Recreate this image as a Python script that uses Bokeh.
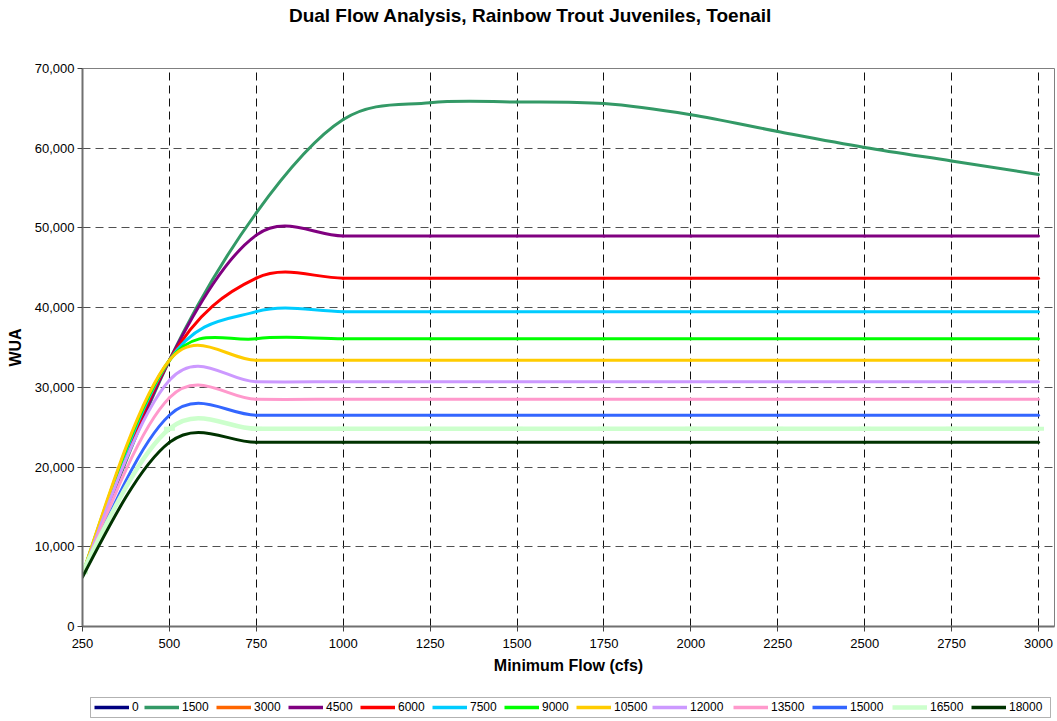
import math
from bokeh.plotting import figure
from bokeh.layouts import column
from bokeh.models import (Range1d, FixedTicker, NumeralTickFormatter, Legend,
                          LegendItem, ColumnDataSource, Label, BoxAnnotation)
from bokeh.embed import file_html
from bokeh.resources import INLINE

# ---------------- data ----------------
flows = [250, 500, 750, 1000, 1250, 1500, 1750, 2000, 2250, 2500, 2750, 3000]

series_names = ["0", "1500", "3000", "4500", "6000", "7500", "9000",
                "10500", "12000", "13500", "15000", "16500", "18000"]

wua_0 = []        # not visible in the chart (legend entry only)
wua_1500 = [6500, 33400, 51900, 63600, 65700, 65800, 65600, 64200, 62100, 60100, 58400, 56700]
wua_3000 = []     # not visible in the chart (legend entry only)
wua_4500 = [6500, 33400, 49100, 49000, 49000, 49000, 49000, 49000, 49000, 49000, 49000, 49000]
wua_6000 = [6500, 33400, 43700, 43700, 43700, 43700, 43700, 43700, 43700, 43700, 43700, 43700]
wua_7500 = [6500, 33400, 39500, 39500, 39500, 39500, 39500, 39500, 39500, 39500, 39500, 39500]
wua_9000 = [6500, 33400, 36100, 36100, 36100, 36100, 36100, 36100, 36100, 36100, 36100, 36100]
wua_10500 = [6500, 33400, 33400, 33400, 33400, 33400, 33400, 33400, 33400, 33400, 33400, 33400]
wua_12000 = [6400, 30900, 30700, 30700, 30700, 30700, 30700, 30700, 30700, 30700, 30700, 30700]
wua_13500 = [6400, 28700, 28500, 28500, 28500, 28500, 28500, 28500, 28500, 28500, 28500, 28500]
wua_15000 = [6300, 26500, 26500, 26500, 26500, 26500, 26500, 26500, 26500, 26500, 26500, 26500]
wua_16500 = [6800, 24800, 24800, 24800, 24800, 24800, 24800, 24800, 24800, 24800, 24800, 24800]
wua_18000 = [6200, 23100, 23100, 23100, 23100, 23100, 23100, 23100, 23100, 23100, 23100, 23100]

series_values = [wua_0, wua_1500, wua_3000, wua_4500, wua_6000, wua_7500, wua_9000,
                 wua_10500, wua_12000, wua_13500, wua_15000, wua_16500, wua_18000]

colors = ["#000080", "#339966", "#FF6600", "#800080", "#FF0000", "#00CCFF", "#00FF00",
          "#FFCC00", "#CC99FF", "#FF99CC", "#3366FF", "#CCFFCC", "#003300"]
widths = [3, 3, 3, 3, 3, 3, 3, 3, 3, 3, 3, 4.5, 3]

x_ticks = [250, 500, 750, 1000, 1250, 1500, 1750, 2000, 2250, 2500, 2750, 3000]
y_ticks = [0, 10000, 20000, 30000, 40000, 50000, 60000, 70000]

TITLE = "Dual Flow Analysis, Rainbow Trout Juveniles, Toenail"

# ---------------- layout constants (pixels) ----------------
W = 1057
H_TITLE, H_MAIN, H_LEG = 30, 660, 31
ML, MR, MT, MB = 82, 3, 38, 64
X0, X1 = 250, 3046
Y0, Y1 = 0, 70000
FONT = "Liberation Sans"
# left edge (page px) of each legend key, and the legend box
legend_key_x = [94, 144, 216, 288, 360, 432, 504, 576, 652, 733, 812, 892, 971]
LEG_BOX_LEFT, LEG_BOX_RIGHT = 90, 1050

# ---------------- title strip ----------------
tfig = figure(width=W, height=H_TITLE, output_backend="svg", toolbar_location=None,
              x_range=Range1d(ML, W - MR), y_range=Range1d(0, H_TITLE),
              x_axis_location=None, y_axis_location=None,
              min_border_left=ML, min_border_right=MR, min_border_top=0,
              min_border_bottom=0)
tfig.grid.visible = False
tfig.outline_line_color = None
tfig.background_fill_color = "white"
tfig.border_fill_color = "white"
tfig.add_layout(Label(x=530, y=H_TITLE - 15, text=TITLE, text_align="center",
                      text_baseline="middle", text_font=FONT,
                      text_font_size="19px", text_font_style="bold",
                      text_color="black"))

# ---------------- main figure ----------------
p = figure(width=W, height=H_MAIN, output_backend="svg", toolbar_location=None,
           x_range=Range1d(X0, X1), y_range=Range1d(Y0, Y1),
           min_border_left=ML, min_border_right=MR, min_border_top=MT,
           min_border_bottom=MB)

p.background_fill_color = "white"
p.border_fill_color = "white"
p.outline_line_color = "#808080"
p.outline_line_width = 1

p.xaxis.ticker = FixedTicker(ticks=x_ticks)
p.yaxis.ticker = FixedTicker(ticks=y_ticks)
p.yaxis.formatter = NumeralTickFormatter(format="0,0")
p.xaxis.axis_label = "Minimum Flow (cfs)"
p.yaxis.axis_label = "WUA"
for ax in (p.xaxis, p.yaxis):
    ax.axis_label_text_font = FONT
    ax.axis_label_text_font_style = "bold"
    ax.axis_label_text_font_size = "16px"
    ax.axis_label_text_color = "black"
    ax.major_label_text_font = FONT
    ax.major_label_text_font_size = "13px"
    ax.major_label_text_color = "black"
    ax.axis_line_color = "#707070"
    ax.axis_line_width = 2
    ax.major_tick_line_color = "#404040"
    ax.major_tick_out = 5
    ax.major_tick_in = 0
    ax.minor_tick_line_color = None
p.xaxis.major_label_standoff = 7
p.yaxis.major_label_standoff = 3
p.xaxis.axis_label_standoff = 6
p.yaxis.axis_label_standoff = 8

p.xgrid.ticker = FixedTicker(ticks=x_ticks)
p.ygrid.ticker = FixedTicker(ticks=y_ticks)
p.xgrid.grid_line_color = "#101010"
p.xgrid.grid_line_dash = "8 5"
p.xgrid.grid_line_width = 1
p.ygrid.grid_line_color = "#505050"
p.ygrid.grid_line_dash = "8 5"
p.ygrid.grid_line_width = 1

# ---------------- smoothed curves (Excel-like Bezier smoothing) ----------------
frame_w = W - ML - MR
frame_h = H_MAIN - MT - MB
SX = frame_w / (X1 - X0)
SY = frame_h / (Y1 - Y0)


def bezier_segments(xs, ys):
    n = len(xs)
    X = [x * SX for x in xs]
    Y = [y * SY for y in ys]
    m = [None] * n
    for i in range(1, n - 1):
        m[i] = ((X[i + 1] - X[i - 1]) / 2, (Y[i + 1] - Y[i - 1]) / 2)
    m[0] = ((3 * (X[1] - X[0]) - m[1][0]) / 2, (3 * (Y[1] - Y[0]) - m[1][1]) / 2)
    m[-1] = ((3 * (X[-1] - X[-2]) - m[-2][0]) / 2, (3 * (Y[-1] - Y[-2]) - m[-2][1]) / 2)
    out = dict(x0=[], y0=[], x1=[], y1=[], cx0=[], cy0=[], cx1=[], cy1=[])
    for i in range(n - 1):
        L = math.hypot(X[i + 1] - X[i], Y[i + 1] - Y[i])
        a = [m[i][0] / 3, m[i][1] / 3]
        b = [m[i + 1][0] / 3, m[i + 1][1] / 3]
        for v in (a, b):
            lv = math.hypot(v[0], v[1])
            if lv > L / 2 and lv > 0:
                f = (L / 2) / lv
                v[0] *= f
                v[1] *= f
        out["x0"].append(xs[i])
        out["y0"].append(ys[i])
        out["x1"].append(xs[i + 1])
        out["y1"].append(ys[i + 1])
        out["cx0"].append((X[i] + a[0]) / SX)
        out["cy0"].append((Y[i] + a[1]) / SY)
        out["cx1"].append((X[i + 1] - b[0]) / SX)
        out["cy1"].append((Y[i + 1] - b[1]) / SY)
    return out


for name, vals, col, lw in zip(series_names, series_values, colors, widths):
    if len(vals) >= 2:
        src = ColumnDataSource(bezier_segments(flows[:len(vals)], vals))
        p.bezier(x0="x0", y0="y0", x1="x1", y1="y1", cx0="cx0", cy0="cy0",
                 cx1="cx1", cy1="cy1", source=src, line_color=col,
                 line_width=lw, line_cap="round")
    if name == "16500":
        p.scatter(x=flows, y=vals, marker="dash", size=11, line_color=col,
                  line_width=4)

# ---------------- legend strip (below the chart) ----------------
LEG_TOP, LEG_BOTTOM = 5, 2
leg_h = H_LEG - LEG_TOP - LEG_BOTTOM
leg = figure(width=W, height=H_LEG, output_backend="svg", toolbar_location=None,
             x_range=Range1d(ML, W - MR), y_range=Range1d(0, leg_h),
             x_axis_location=None, y_axis_location=None,
             min_border_left=ML, min_border_right=MR, min_border_top=LEG_TOP,
             min_border_bottom=LEG_BOTTOM)
leg.grid.visible = False
leg.outline_line_color = None
leg.background_fill_color = "white"
leg.border_fill_color = "white"
leg.add_layout(BoxAnnotation(left=LEG_BOX_LEFT, right=LEG_BOX_RIGHT, bottom=2,
                             top=leg_h - 2, fill_color="white", fill_alpha=1,
                             line_color="black", line_width=1))

for name, col, lw, kx in zip(series_names, colors, widths, legend_key_x):
    # legend key only: a NaN placeholder that draws nothing in the strip
    r = leg.line(x=[float("nan")], y=[float("nan")], line_color=col,
                 line_width=max(lw, 3.5))
    lg = Legend(items=[LegendItem(label=name, renderers=[r])],
                orientation="horizontal", location=(kx - ML, 5))
    lg.label_text_font = FONT
    lg.label_text_font_size = "12px"
    lg.label_text_color = "black"
    lg.glyph_width = 35
    lg.glyph_height = 14
    lg.label_height = 14
    lg.label_width = 5
    lg.label_standoff = 3
    lg.padding = 0
    lg.margin = 0
    lg.border_line_color = None
    lg.background_fill_alpha = 0
    leg.add_layout(lg, "center")

layout = column(tfig, p, leg, spacing=0)
open("out.html", "w").write(file_html(layout, INLINE))
